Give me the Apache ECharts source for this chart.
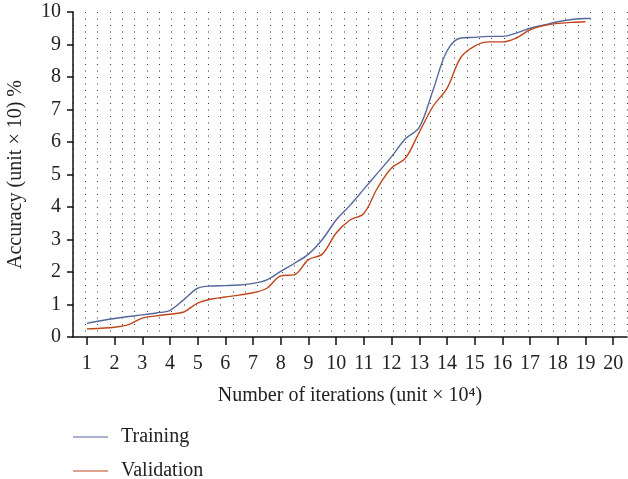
<!DOCTYPE html>
<html>
<head>
<meta charset="utf-8">
<script src="https://cdn.jsdelivr.net/npm/echarts@6/dist/echarts.min.js"></script>
<style>html,body{margin:0;padding:0;background:#fff}#c{width:628px;height:479px}</style>
</head>
<body>
<div id="c"></div>
<script>
var trainX = [1,1.5,2,2.5,3,3.5,4,4.5,5,5.5,6,6.5,7,7.5,8,8.5,9,9.5,10,10.5,11,11.5,12,12.5,13,13.5,14,14.5,15,15.5,16,16.5,17,17.5,18,18.5,19,19.2];
var trainY = [0.42,0.5,0.57,0.63,0.68,0.74,0.82,1.15,1.5,1.57,1.58,1.6,1.65,1.76,2.02,2.27,2.55,3.0,3.6,4.05,4.55,5.05,5.55,6.1,6.45,7.6,8.8,9.2,9.22,9.25,9.25,9.35,9.5,9.6,9.7,9.77,9.8,9.8];
var validX = [1,1.5,2,2.5,3,3.5,4,4.5,5,5.5,6,6.5,7,7.5,8,8.5,9,9.5,10,10.5,11,11.5,12,12.5,13,13.5,14,14.5,15,15.5,16,16.5,17,17.5,18,18.5,19];
var validY = [0.25,0.27,0.3,0.38,0.58,0.65,0.7,0.77,1.04,1.17,1.23,1.29,1.36,1.5,1.88,1.92,2.38,2.55,3.2,3.6,3.8,4.6,5.2,5.5,6.3,7.1,7.65,8.6,8.95,9.08,9.08,9.2,9.45,9.58,9.65,9.68,9.7];
var seriesNames = ['Training', 'Validation'];
var xTicks = [1,2,3,4,5,6,7,8,9,10,11,12,13,14,15,16,17,18,19,20];

function pairs(xs, ys){ return xs.map(function(x,i){ return [x, ys[i]]; }); }

var FONT = 'Liberation Serif';
var chart = echarts.init(document.getElementById('c'), null, {renderer:'canvas'});
chart.setOption({
  animation: false,
  backgroundColor: '#fff',
  textStyle: {fontFamily: FONT, color: '#222'},
  grid: {left: 73, right: 1, top: 12, bottom: 142, containLabel: false, outerBoundsMode: 'none'},
  legend: {
    orient: 'vertical', left: 73, top: 427, padding: 0, height: 60, itemWidth: 35, itemHeight: 12, itemGap: 14,
    icon: 'path://M0,5 L35,5 L35,6 L0,6 Z',
    textStyle: {fontFamily: FONT, fontSize: 20, color: '#222', padding: [0,0,0,8]},
    data: seriesNames
  },
  xAxis: [{
    type: 'value', min: 0.5, max: 20.5,
    name: 'Number of iterations (unit × 10⁴)', nameLocation: 'middle', nameGap: 49,
    nameTextStyle: {fontFamily: FONT, fontSize: 20, color: '#222'},
    axisLine: {show: true, onZero: false, lineStyle: {color: '#111', width: 1.5}},
    axisTick: {show: true, length: 8, inside: false, customValues: xTicks, lineStyle: {color: '#111', width: 1.5}},
    axisLabel: {fontFamily: FONT, fontSize: 20, color: '#222', margin: 17, customValues: xTicks, showMinLabel: true, showMaxLabel: true},
    splitLine: {show: false}
  }, {
    type: 'value', min: 0, max: 45, interval: 1, show: true,
    axisLine: {show: false}, axisTick: {show: false}, axisLabel: {show: false},
    splitLine: {show: true, lineStyle: {color: '#333', width: 1, type: [1, 5.5]}}
  }],
  yAxis: {
    type: 'value', min: 0, max: 10, interval: 1,
    name: 'Accuracy (unit × 10) %', nameLocation: 'middle', nameGap: 47,
    nameTextStyle: {fontFamily: FONT, fontSize: 20, color: '#222'},
    axisLine: {show: true, lineStyle: {color: '#111', width: 1.5}},
    axisTick: {show: true, length: 6, inside: false, lineStyle: {color: '#111', width: 1.5}},
    axisLabel: {fontFamily: FONT, fontSize: 20, color: '#222', margin: 12},
    splitLine: {show: false}
  },
  series: [{
    name: seriesNames[0], type: 'line', xAxisIndex: 0, data: pairs(trainX, trainY),
    smooth: 0.35, symbol: 'none', color: '#56679b', lineStyle: {color: '#56679b', width: 1.4}, z: 3
  }, {
    name: seriesNames[1], type: 'line', xAxisIndex: 0, data: pairs(validX, validY),
    smooth: 0.35, symbol: 'none', color: '#c0461c', lineStyle: {color: '#c0461c', width: 1.4}, z: 3
  }]
});
</script>
</body>
</html>
